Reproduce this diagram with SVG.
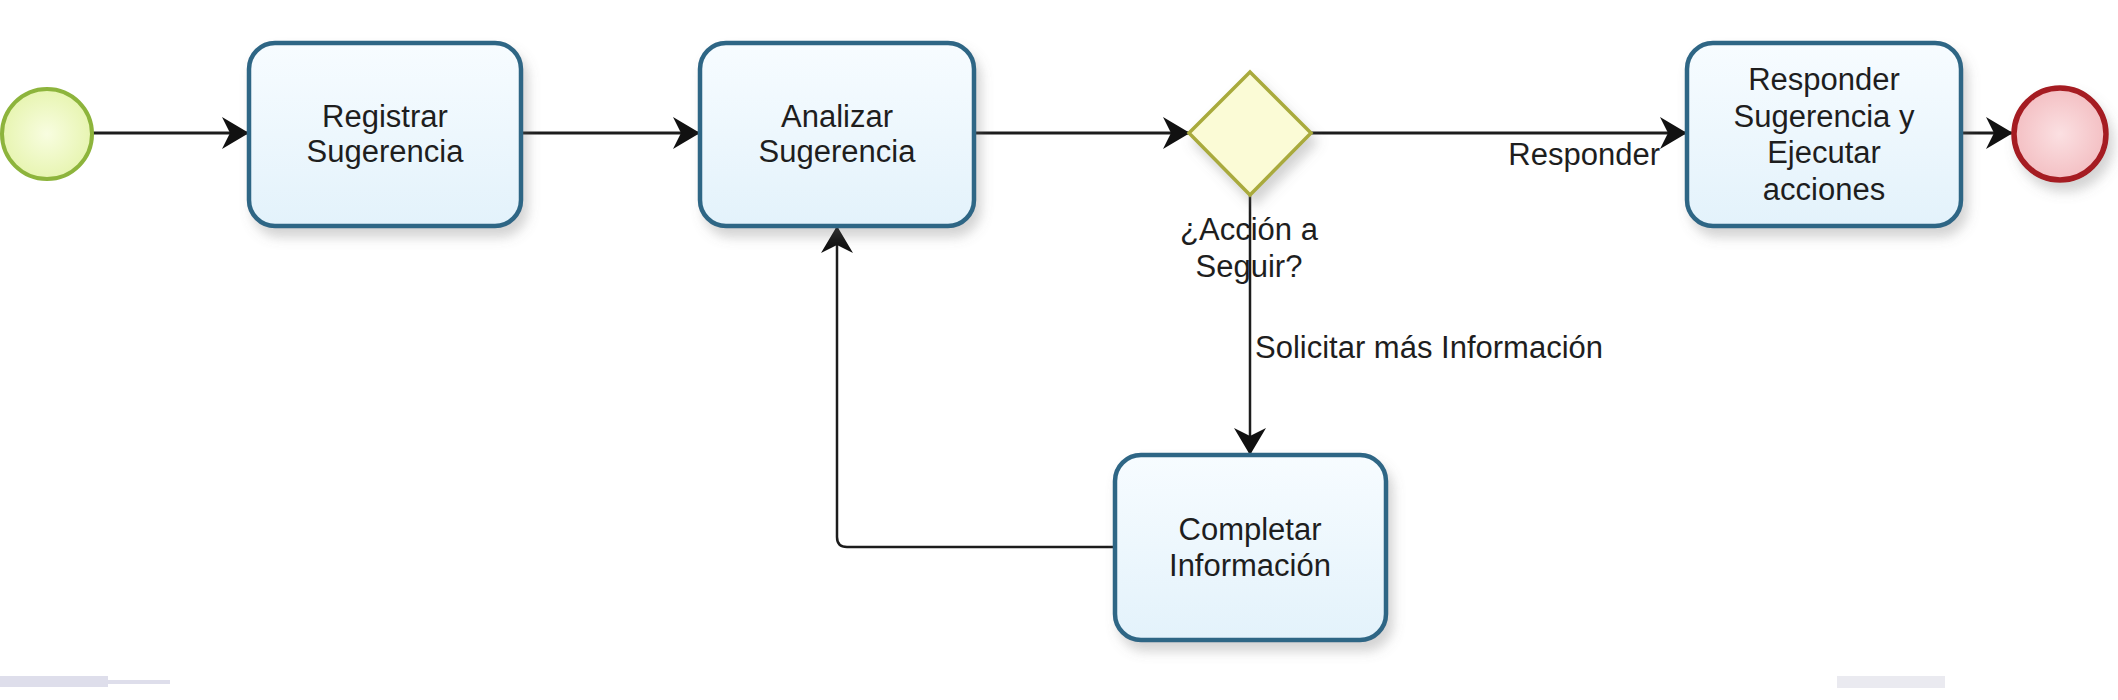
<svg xmlns="http://www.w3.org/2000/svg" width="2118" height="700" viewBox="0 0 2118 700">
  <style>
    .task { fill: url(#taskFill); stroke: #2f6685; stroke-width: 4.5; filter: url(#shadow); }
    .lbl { font-family: "Liberation Sans", Arial, sans-serif; font-size: 31px; fill: #1e1e1e; }
    .mid { text-anchor: middle; }
    .flow { fill: none; stroke: #1c1c1c; stroke-width: 3; }
    .thin { stroke-width: 2.5; }
  </style>
  <defs>
    <linearGradient id="taskFill" x1="0" y1="0" x2="0" y2="1">
      <stop offset="0" stop-color="#f7fcff"/>
      <stop offset="1" stop-color="#e3f2fb"/>
    </linearGradient>
    <radialGradient id="startFill" cx="0.5" cy="0.5" r="0.6">
      <stop offset="0" stop-color="#f8fde0"/>
      <stop offset="1" stop-color="#e4f3a8"/>
    </radialGradient>
    <radialGradient id="endFill" cx="0.5" cy="0.5" r="0.6">
      <stop offset="0" stop-color="#fbe0e2"/>
      <stop offset="1" stop-color="#f2b9bd"/>
    </radialGradient>
    <filter id="shadow" x="-20%" y="-20%" width="150%" height="150%">
      <feDropShadow dx="5" dy="9" stdDeviation="6" flood-color="#707070" flood-opacity="0.3"/>
    </filter>
    <marker id="arrow" viewBox="0 0 27 32" markerWidth="27" markerHeight="32" refX="27" refY="16" orient="auto" markerUnits="userSpaceOnUse">
      <path d="M0,0 L27,16 L0,32 L8,16 Z" fill="#111"/>
    </marker>
  </defs>

  <rect width="2118" height="700" fill="#ffffff"/>

  <g id="artifacts" opacity="0.6">
    <rect x="0" y="676" width="108" height="11" fill="#c9c9df"/>
    <rect x="108" y="680" width="62" height="4" fill="#c9c9df"/>
    <rect x="1837" y="676" width="108" height="12" fill="#dcdce6"/>
  </g>

  <g id="connectors">
    <line class="flow" x1="92" y1="133" x2="249" y2="133" marker-end="url(#arrow)"/>
    <line class="flow" x1="521" y1="133" x2="700" y2="133" marker-end="url(#arrow)"/>
    <line class="flow" x1="974" y1="133" x2="1190" y2="133" marker-end="url(#arrow)"/>
    <line class="flow" x1="1311" y1="133" x2="1687" y2="133" marker-end="url(#arrow)"/>
    <line class="flow" x1="1961" y1="133" x2="2013" y2="133" marker-end="url(#arrow)"/>
    <line class="flow thin" x1="1250" y1="195" x2="1250" y2="455" marker-end="url(#arrow)"/>
    <path class="flow thin" d="M1115,547 H847 Q837,547 837,537 V226" marker-end="url(#arrow)"/>
    <text class="lbl" x="1660" y="165" text-anchor="end">Responder</text>
    <text class="lbl" x="1255" y="358">Solicitar más Información</text>
  </g>

  <g id="start">
    <circle cx="47" cy="134" r="45" fill="url(#startFill)" stroke="#8db43c" stroke-width="4"/>
  </g>

  <g id="registrar">
    <rect class="task" x="249" y="43" width="272" height="183" rx="26"/>
    <text class="lbl mid" x="385" y="127">Registrar</text>
    <text class="lbl mid" x="385" y="162">Sugerencia</text>
  </g>

  <g id="analizar">
    <rect class="task" x="700" y="43" width="274" height="183" rx="26"/>
    <text class="lbl mid" x="837" y="127">Analizar</text>
    <text class="lbl mid" x="837" y="162">Sugerencia</text>
  </g>

  <g id="gateway">
    <polygon points="1250,72 1311,133 1250,195 1189,133" fill="#fbfbd6" stroke="#a9aa3c" stroke-width="3.5" filter="url(#shadow)"/>
    <text class="lbl mid" x="1249" y="240">¿Acción a</text>
    <text class="lbl mid" x="1249" y="277">Seguir?</text>
  </g>

  <g id="responder">
    <rect class="task" x="1687" y="43" width="274" height="183" rx="26"/>
    <text class="lbl mid" x="1824" y="90">Responder</text>
    <text class="lbl mid" x="1824" y="127">Sugerencia y</text>
    <text class="lbl mid" x="1824" y="163">Ejecutar</text>
    <text class="lbl mid" x="1824" y="200">acciones</text>
  </g>

  <g id="end">
    <circle cx="2060" cy="134" r="46" fill="url(#endFill)" stroke="#a51c22" stroke-width="5.5" filter="url(#shadow)"/>
  </g>

  <g id="completar">
    <rect class="task" x="1115" y="455" width="271" height="185" rx="26"/>
    <text class="lbl mid" x="1250" y="540">Completar</text>
    <text class="lbl mid" x="1250" y="576">Información</text>
  </g>
</svg>
